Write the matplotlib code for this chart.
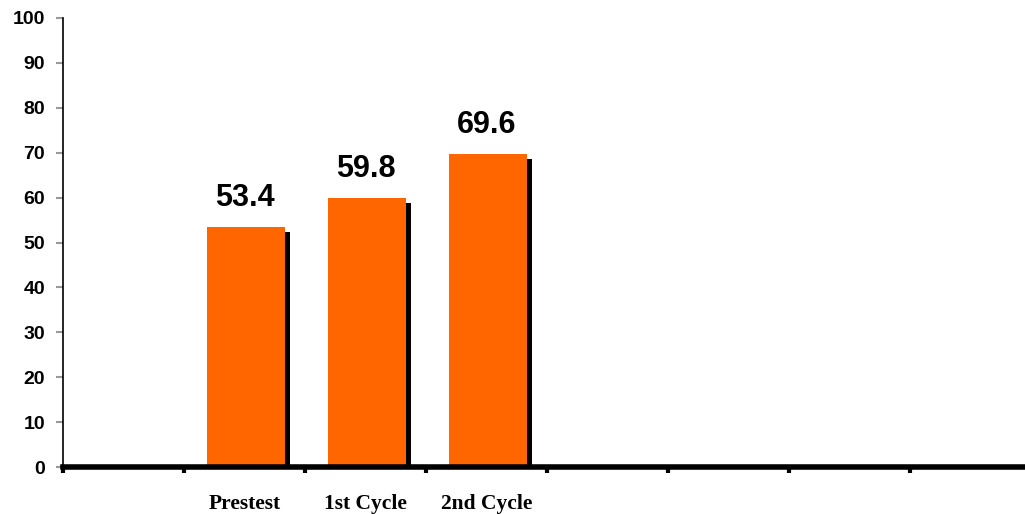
import matplotlib
matplotlib.use("Agg")
import matplotlib.pyplot as plt
import matplotlib.transforms as mtransforms
import numpy as np

categories = ["Prestest", "1st Cycle", "2nd Cycle"]
values = [53.4, 59.8, 69.6]
slots = [1, 2, 3]          # slot index on the 8-slot axis
y_ticks = list(range(0, 101, 10))

fig = plt.figure(figsize=(10.25, 5.14), dpi=100)
ax = fig.add_axes([63 / 1025, 47 / 514, 968 / 1025, 449 / 514])

x = np.array(slots) + 0.5
w = 0.645

# black drop shadow offset right/down
shadow = ax.transData + mtransforms.ScaledTranslation(5 / 100, -5 / 100, fig.dpi_scale_trans)
ax.bar(x + 0.01, values, width=w, color="black", transform=shadow, zorder=1)
ax.bar(x + 0.01, values, width=w, color="#FF6600", zorder=2)

for xi, v in zip(x, values):
    ax.text(xi, v + 3.2, f"{v}", ha="center", va="bottom", fontsize=22,
            fontweight="bold", family=["Liberation Sans", "DejaVu Sans"])

ax.set_xlim(0, 8)
ax.set_ylim(0, 100)
ax.set_yticks(y_ticks)
ax.set_yticklabels([str(t) for t in y_ticks], fontsize=14, fontweight="bold",
                   family=["Liberation Sans Narrow", "Liberation Sans", "DejaVu Sans"])
ax.tick_params(axis="y", length=5, width=1.5, color="#999999", pad=8)

ax.set_xticks(range(0, 9))
ax.set_xticklabels([])
ax.tick_params(axis="x", length=4, width=3, color="black", direction="out")
for xi, c in zip(x, categories):
    ax.text(xi, -6.0, c, ha="center", va="top", fontsize=15.5, fontweight="bold",
            family=["Liberation Serif", "DejaVu Serif"])

for s in ["top", "right"]:
    ax.spines[s].set_visible(False)
ax.spines["left"].set_linewidth(1.2)
ax.spines["bottom"].set_linewidth(4)
ax.spines["bottom"].set_zorder(3)

fig.savefig("out.png", dpi=100)
